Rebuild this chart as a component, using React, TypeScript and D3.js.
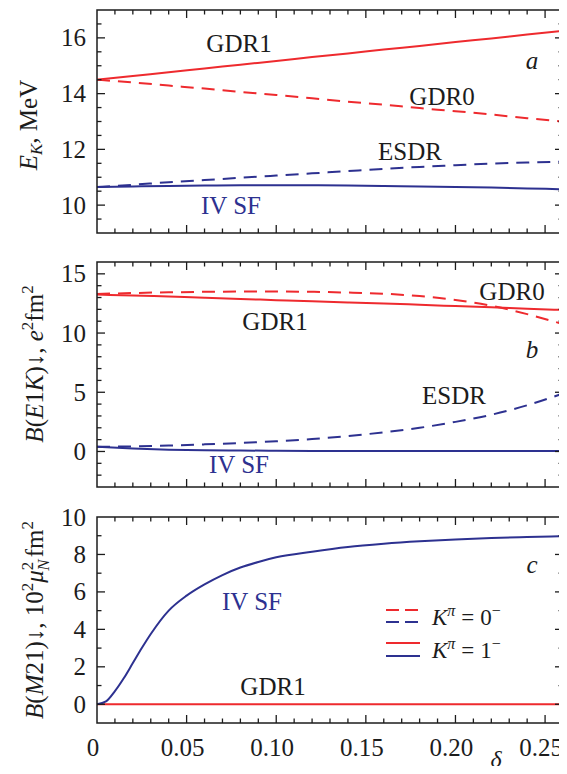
import * as d3 from "d3";

const RED = "#ee2a2e";
const BLUE = "#2d3190";
const INK = "#1c1c1c";
const SERIF = '"Liberation Serif", "Tinos", "Times New Roman"';

const W = 567;
const H = 774;
const LEFT = 97;
const RIGHT = 563;

// deformation grid shared by panels a and b
const deltaGrid = [0, 0.02, 0.04, 0.06, 0.08, 0.1, 0.12, 0.14, 0.16, 0.18, 0.2, 0.22, 0.24, 0.26];

// a: energies, MeV
const energyGDR1 = [14.5, 14.63, 14.77, 14.9, 15.04, 15.17, 15.31, 15.44, 15.58, 15.71, 15.85, 15.98, 16.12, 16.25];
const energyGDR0 = [14.5, 14.4, 14.29, 14.18, 14.06, 13.95, 13.83, 13.71, 13.6, 13.48, 13.37, 13.25, 13.12, 13.0];
const energyESDR = [10.65, 10.73, 10.82, 10.9, 10.98, 11.06, 11.14, 11.22, 11.3, 11.37, 11.43, 11.49, 11.53, 11.56];
const energyIVSF = [10.65, 10.67, 10.69, 10.7, 10.71, 10.71, 10.71, 10.7, 10.69, 10.67, 10.65, 10.63, 10.6, 10.57];

// b: B(E1K), e^2 fm^2
const be1GDR1 = [13.25, 13.17, 13.08, 12.98, 12.88, 12.78, 12.69, 12.59, 12.49, 12.39, 12.28, 12.17, 12.05, 11.95];
const be1GDR0 = [13.3, 13.38, 13.44, 13.48, 13.5, 13.5, 13.48, 13.42, 13.32, 13.12, 12.8, 12.3, 11.6, 10.75];
const be1ESDR = [0.4, 0.43, 0.5, 0.6, 0.72, 0.86, 1.05, 1.3, 1.62, 2.0, 2.5, 3.1, 3.9, 4.9];
const be1IVSF = [0.4, 0.25, 0.15, 0.1, 0.08, 0.06, 0.05, 0.05, 0.04, 0.04, 0.04, 0.03, 0.03, 0.03];

// c: B(M21), 10^2 mu_N^2 fm^2
const deltaM1 = [0, 0.005, 0.01, 0.015, 0.02, 0.025, 0.03, 0.04, 0.05, 0.06, 0.07, 0.08, 0.09, 0.1, 0.12, 0.14, 0.16, 0.18, 0.2, 0.22, 0.24, 0.26];
const bm1IVSF = [0, 0.15, 0.7, 1.4, 2.2, 3.0, 3.75, 5.0, 5.8, 6.4, 6.9, 7.3, 7.6, 7.85, 8.15, 8.4, 8.57, 8.7, 8.8, 8.88, 8.93, 8.97];
const bm1GDR1 = [0, 0, 0, 0, 0, 0, 0, 0, 0, 0, 0, 0, 0, 0];

const xTickValues = [0, 0.05, 0.1, 0.15, 0.2, 0.25];
const xTickLabels = ["0", "0.05", "0.10", "0.15", "0.20", "0.25"];

const x = d3.scaleLinear().domain([0, 0.26]).range([LEFT, RIGHT]);

function steps(lo, hi, step) {
  const n = Math.round((hi - lo) / step);
  return d3.range(n + 1).map((i) => +(lo + i * step).toFixed(4));
}

function Curve({ xs, ys, y, color, dashed }) {
  const line = d3
    .line()
    .x((d) => x(d[0]))
    .y((d) => y(d[1]))
    .curve(d3.curveMonotoneX);
  return (
    <path
      d={line(xs.map((v, i) => [v, ys[i]]))}
      fill="none"
      stroke={color}
      strokeWidth={2}
      strokeDasharray={dashed ? "13,8" : undefined}
    />
  );
}

function Panel({ top, bottom, domain, minor, labels, series, children }) {
  const y = d3.scaleLinear().domain(domain).range([bottom, top]);
  const yTicks = steps(Math.ceil(domain[0] / minor) * minor, domain[1], minor).filter(
    (v) => v > domain[0] && v < domain[1]
  );
  const xTicks = steps(0.01, 0.25, 0.01);
  const isMajorX = (v) => Math.abs(v / 0.05 - Math.round(v / 0.05)) < 1e-6;
  const isMajorY = (v) => labels.some((l) => Math.abs(l - v) < 1e-6);

  return (
    <g>
      {series.map((s, i) => (
        <Curve key={i} xs={s.xs} ys={s.ys} y={y} color={s.color} dashed={s.dashed} />
      ))}
      <g stroke={INK} strokeWidth={1.3}>
        {xTicks.map((v) => {
          const len = isMajorX(v) ? 8 : 4.5;
          return (
            <g key={`x${v}`}>
              <line x1={x(v)} x2={x(v)} y1={bottom} y2={bottom - len} />
              <line x1={x(v)} x2={x(v)} y1={top} y2={top + len} />
            </g>
          );
        })}
        {yTicks.map((v) => {
          const len = isMajorY(v) ? 8 : 4.5;
          return (
            <g key={`y${v}`}>
              <line x1={LEFT} x2={LEFT + len} y1={y(v)} y2={y(v)} />
              <line x1={RIGHT} x2={RIGHT - len} y1={y(v)} y2={y(v)} />
            </g>
          );
        })}
      </g>
      <rect x={LEFT} y={top} width={RIGHT - LEFT} height={bottom - top} fill="none" stroke={INK} strokeWidth={1.5} />
      {labels.map((v) => (
        <text key={`l${v}`} x={86} y={y(v)} dy="0.34em" textAnchor="end" fontSize={25} fill={INK}>
          {v}
        </text>
      ))}
      {children}
    </g>
  );
}

function Label({ x0, y0, text, color = INK, italic = false }) {
  return (
    <text x={x0} y={y0} textAnchor="middle" fontSize={25} fill={color} fontStyle={italic ? "italic" : "normal"}>
      {text}
    </text>
  );
}

export default function App() {
  return (
    <div style={{ fontFamily: SERIF, margin: -8, width: W, height: H }}>
      <svg width={W} height={H} style={{ display: "block" }}>
        <style>{`text, tspan { font-family: ${SERIF}; }`}</style>
        <rect width={W} height={H} fill="#fff" />

        <Panel
          top={10}
          bottom={233}
          domain={[9, 17]}
          minor={0.5}
          labels={[10, 12, 14, 16]}
          series={[
            { xs: deltaGrid, ys: energyESDR, color: BLUE, dashed: true },
            { xs: deltaGrid, ys: energyIVSF, color: BLUE, dashed: false },
            { xs: deltaGrid, ys: energyGDR0, color: RED, dashed: true },
            { xs: deltaGrid, ys: energyGDR1, color: RED, dashed: false },
          ]}
        >
          <Label x0={239} y0={52} text="GDR1" />
          <Label x0={442} y0={105} text="GDR0" />
          <Label x0={410} y0={160} text="ESDR" />
          <Label x0={231} y0={214} text="IV SF" color={BLUE} />
          <Label x0={532} y0={69} text="a" italic />
          <text transform="translate(37,125) rotate(-90)" textAnchor="middle" fontSize={25} fill={INK}>
            <tspan fontStyle="italic">E</tspan>
            <tspan fontStyle="italic" fontSize={17} dy={5}>K</tspan>
            <tspan dy={-5}>, MeV</tspan>
          </text>
        </Panel>

        <Panel
          top={262}
          bottom={487}
          domain={[-3, 16]}
          minor={1}
          labels={[0, 5, 10, 15]}
          series={[
            { xs: deltaGrid, ys: be1ESDR, color: BLUE, dashed: true },
            { xs: deltaGrid, ys: be1IVSF, color: BLUE, dashed: false },
            { xs: deltaGrid, ys: be1GDR0, color: RED, dashed: true },
            { xs: deltaGrid, ys: be1GDR1, color: RED, dashed: false },
          ]}
        >
          <Label x0={512} y0={300} text="GDR0" />
          <Label x0={275} y0={330} text="GDR1" />
          <Label x0={532} y0={358} text="b" italic />
          <Label x0={454} y0={404} text="ESDR" />
          <Label x0={239} y0={473} text="IV SF" color={BLUE} />
          <text transform="translate(43,364) rotate(-90)" textAnchor="middle" fontSize={25} fill={INK}>
            <tspan fontStyle="italic">B</tspan>
            <tspan>(</tspan>
            <tspan fontStyle="italic">E</tspan>
            <tspan>1</tspan>
            <tspan fontStyle="italic">K</tspan>
            <tspan>)↓, </tspan>
            <tspan fontStyle="italic">e</tspan>
            <tspan fontSize={17} dy={-10}>2</tspan>
            <tspan dy={10}>fm</tspan>
            <tspan fontSize={17} dy={-10}>2</tspan>
          </text>
        </Panel>

        <Panel
          top={517}
          bottom={723}
          domain={[-1, 10]}
          minor={1}
          labels={[0, 2, 4, 6, 8, 10]}
          series={[
            { xs: deltaGrid, ys: bm1GDR1, color: RED, dashed: false },
            { xs: deltaM1, ys: bm1IVSF, color: BLUE, dashed: false },
          ]}
        >
          <Label x0={252} y0={610} text="IV SF" color={BLUE} />
          <Label x0={273} y0={695} text="GDR1" />
          <Label x0={532} y0={573} text="c" italic />
          <text transform="translate(43,620) rotate(-90)" textAnchor="middle" fontSize={25} fill={INK}>
            <tspan fontStyle="italic">B</tspan>
            <tspan>(</tspan>
            <tspan fontStyle="italic">M</tspan>
            <tspan>21)↓,  10</tspan>
            <tspan fontSize={17} dy={-10}>2</tspan>
            <tspan fontStyle="italic" dy={10}>μ</tspan>
            <tspan fontSize={17} dy={-10}>2</tspan>
            <tspan fontSize={17} fontStyle="italic" dx={-9} dy={16}>N</tspan>
            <tspan dy={-6} dx={2}>fm</tspan>
            <tspan fontSize={17} dy={-10}>2</tspan>
          </text>

          <g strokeWidth={2}>
            <line x1={386} x2={418} y1={610} y2={610} stroke={RED} strokeDasharray="13,6" />
            <line x1={386} x2={418} y1={622} y2={622} stroke={BLUE} strokeDasharray="13,6" />
            <line x1={386} x2={420} y1={643} y2={643} stroke={RED} />
            <line x1={386} x2={420} y1={656} y2={656} stroke={BLUE} />
          </g>
          <text x={432} y={625} fontSize={23} fill={INK}>
            <tspan fontStyle="italic">K</tspan>
            <tspan fontStyle="italic" fontSize={16} dy={-9}>π</tspan>
            <tspan dy={9} dx={6}>=</tspan>
            <tspan dx={6}>0</tspan>
            <tspan fontSize={16} dy={-9}>−</tspan>
          </text>
          <text x={432} y={658} fontSize={23} fill={INK}>
            <tspan fontStyle="italic">K</tspan>
            <tspan fontStyle="italic" fontSize={16} dy={-9}>π</tspan>
            <tspan dy={9} dx={6}>=</tspan>
            <tspan dx={6}>1</tspan>
            <tspan fontSize={16} dy={-9}>−</tspan>
          </text>
        </Panel>

        {xTickValues.map((v, i) => (
          <text key={v} x={x(v) - 4} y={756} textAnchor="middle" fontSize={25} fill={INK}>
            {xTickLabels[i]}
          </text>
        ))}
        <text x={496} y={767} textAnchor="middle" fontSize={24} fontStyle="italic" fill={INK}>
          δ
        </text>
      </svg>
    </div>
  );
}
